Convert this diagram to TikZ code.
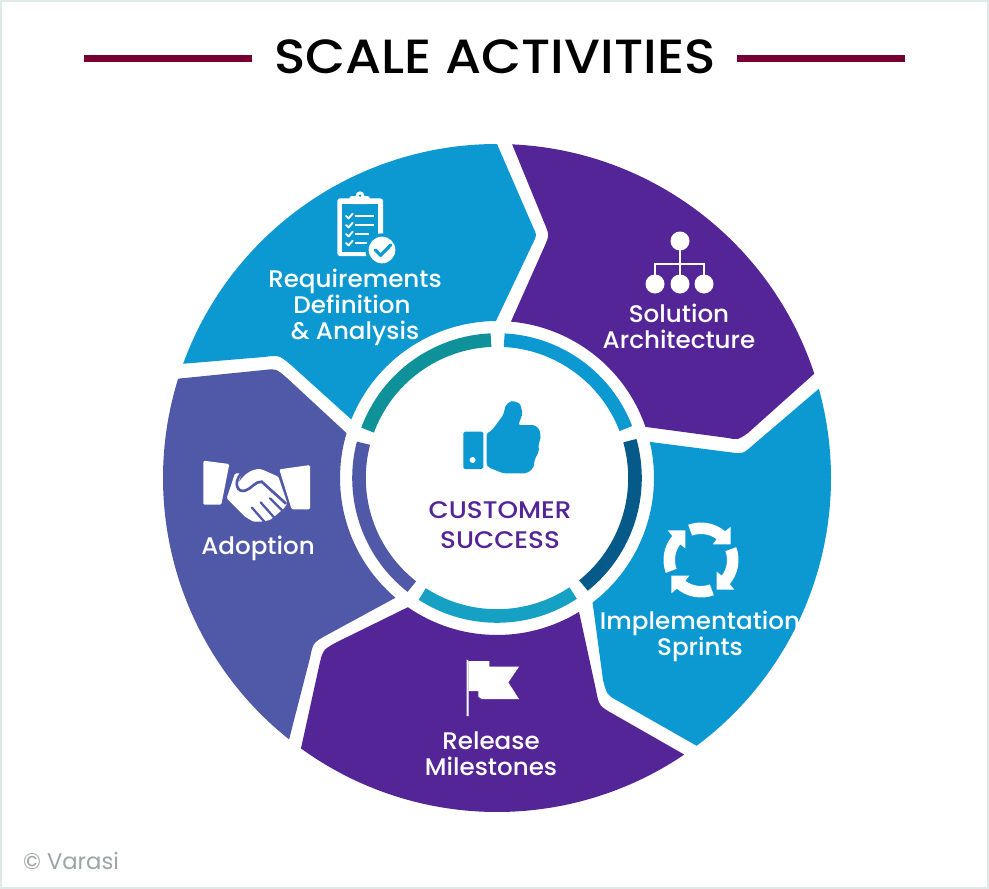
\documentclass[tikz,border=0pt]{standalone}
\usepackage{fontspec}
\setmainfont{Poppins}
\newfontfamily\bodyfont[FakeStretch=1.025]{Poppins Medium}
\newfontfamily\ttlfont[FakeStretch=1.08]{Poppins Medium}
\newfontfamily\midfont[FakeStretch=1.09]{Poppins Medium}
\definecolor{skyb}{HTML}{0C98D1}
\definecolor{purp}{HTML}{542596}
\definecolor{indg}{HTML}{5058A8}
\definecolor{tealr}{HTML}{0F9199}
\definecolor{cyanr}{HTML}{16A1C4}
\definecolor{darkr}{HTML}{055A8A}
\definecolor{wine}{HTML}{760033}
\definecolor{edgec}{HTML}{DFE9E8}
\definecolor{greyt}{HTML}{9AA5A5}
\tikzset{
  seclabel/.style={text=white,font=\bodyfont\fontsize{18}{20}\selectfont,anchor=base,inner sep=0pt},
  midlabel/.style={text=purp,font=\midfont\fontsize{18}{20}\selectfont,anchor=base,inner sep=0pt},
  ringseg/.style={line width=10.2pt},
  titlerule/.style={wine,line width=5.2pt},
  chk/.style={white,line width=1.4pt,line cap=round,line join=round},
  bar/.style={white,line width=1.9pt}
}
\begin{document}
\begin{tikzpicture}[x=.75pt,y=-.75pt]
\useasboundingbox (0,0) rectangle (989,889);
\draw[edgec,line width=1.5pt,fill=white] (1,1) rectangle (988,888);
% title
\node[anchor=base,inner sep=0pt,font=\ttlfont\fontsize{36}{40}\selectfont] (title) at (495,73) {SCALE ACTIVITIES};
\draw[titlerule] (84,58.5) -- (252,58.5);
\draw[titlerule] (737,58.5) -- (905,58.5);
% sectors and ring, relative to the centre
\begin{scope}[shift={(497,478)}]
\fill[skyb] (-90:334) arc[start angle=-90,end angle=-160,radius=334]
  -- (-233,-121) .. controls (-218,-123) .. (-206,-113)
  -- (-158.1:157) arc[start angle=-158.1,end angle=-90.4,radius=157]
  -- (36,-235) .. controls (40,-243) .. (36,-251) -- cycle;
\fill[purp] (-87.4:334) arc[start angle=-87.4,end angle=-18.2,radius=334]
  -- (251,-45) .. controls (241,-38) .. (231,-40)
  -- (-19:157) arc[start angle=-19,end angle=-84.9,radius=157]
  -- (49,-235) .. controls (52,-243) .. (49,-251) -- cycle;
\fill[skyb] (53.3:334) arc[start angle=53.3,end angle=-15.5,radius=334]
  -- (256,-33) .. controls (246,-24) .. (231,-26)
  -- (-13.3:157) arc[start angle=-13.3,end angle=52.5,radius=157]
  -- (106,202) .. controls (110,217) .. (121,223) -- cycle;
\fill[purp] (125.94:334) arc[start angle=125.94,end angle=55.9,radius=334]
  -- (118,237) .. controls (102,228) .. (99,212)
  -- (58.5:157) arc[start angle=58.5,end angle=124.6,radius=157]
  -- (-162,165) .. controls (-174,172) .. (-177,184) -- cycle;
\fill[indg] (-162.7:334) arc[start angle=-162.7,end angle=-231.5,radius=334]
  -- (-187,180) .. controls (-184,165) .. (-172,158)
  -- (-229.7:157) arc[start angle=-229.7,end angle=-163.4,radius=157]
  -- (-210,-100) .. controls (-221,-109.5) .. (-233,-108) -- cycle;
\draw[ringseg,tealr] (-92.5:138) arc[start angle=-92.5,end angle=-159.7,radius=138];
\draw[ringseg,indg] (-165.4:138) arc[start angle=-165.4,end angle=-231.9,radius=138];
\draw[ringseg,cyanr] (122.8:138) arc[start angle=122.8,end angle=56.5,radius=138];
\draw[ringseg,darkr] (51.2:138) arc[start angle=51.2,end angle=-15.7,radius=138];
\draw[ringseg,skyb] (-21:138) arc[start angle=-21,end angle=-87,radius=138];
\end{scope}
% labels
\node[seclabel] (req1) at (355,287) {Requirements};
\node[seclabel] (req2) at (352,313) {Definition};
\node[seclabel] (req3) at (355,339) {\& Analysis};
\node[seclabel] (sol1) at (679,322) {Solution};
\node[seclabel] (sol2) at (679,348) {Architecture};
\node[seclabel] (imp1) at (700,629) {Implementation};
\node[seclabel] (imp2) at (700,655) {Sprints};
\node[seclabel] (rel1) at (491,749) {Release};
\node[seclabel] (rel2) at (491,775) {Milestones};
\node[seclabel] (ado1) at (258,554) {Adoption};
\node[midlabel] (mid1) at (500,518) {CUSTOMER};
\node[midlabel] (mid2) at (500,548) {SUCCESS};
\node[anchor=base,inner sep=0pt,text=greyt,font=\fontsize{17}{19}\selectfont] (copy) at (71,869) {© Varasi};
% clipboard
\begin{scope}[shift={(320,130)},x=.25pt,y=-.25pt]
\fill[white,rounded corners=2pt] (52,205) rectangle (189,378);
\fill[skyb] (65,222) rectangle (175,365);
\fill[white,rounded corners=2pt] (88,198) rectangle (150,222);
\fill[white] (120,197) circle[radius=13];
\fill[skyb] (120,197) circle[radius=4];
\draw[chk] (78,258) -- (86,265) -- (98,251);
\draw[chk] (78,285) -- (86,292) -- (98,278);
\draw[chk] (78,312) -- (86,319) -- (98,305);
\draw[chk] (78,339) -- (86,346) -- (98,332);
\draw[white,line width=1.7pt] (105,259) -- (162,259);
\draw[white,line width=1.7pt] (105,286) -- (162,286);
\draw[white,line width=1.7pt] (105,312) -- (147,312);
\draw[white,line width=1.7pt] (105,339) -- (140,339);
\fill[skyb] (186,360) circle[radius=50];
\fill[white] (186,360) circle[radius=40];
\draw[skyb,line width=2.4pt,line cap=round,line join=round] (166,360) -- (182,376) -- (212,345);
\end{scope}
% org chart
\draw[bar] (680,241) -- (680,284);
\draw[bar] (655,284) -- (655,264) -- (704,264) -- (704,284);
\foreach \px/\py in {680/241,655/284,680/284,704/284}
  \fill[white] (\px,\py) circle[radius=9.5];
% cycle arrows
\foreach \turn in {0,-90,-180,-270}{
\begin{scope}[shift={(701,560)},rotate=\turn]
\fill[white] (-110:37.5) arc[start angle=-110,end angle=-50,radius=37.5]
  -- (29.7,-33.3) -- (29.7,-15.7) -- (11.7,-15.7)
  -- (-53:26) arc[start angle=-53,end angle=-110,radius=26] -- cycle;
\end{scope}}
% flag
\begin{scope}[shift={(440,650)},x=.25pt,y=-.25pt]
\fill[white] (80,28) -- (86,33) -- (86,198) -- (80,198) -- cycle;
\fill[white] (86,33) -- (148,33) -- (148,50) -- (237,50) -- (205,97) -- (237,147)
  -- (125,147) -- (115,140) -- (115,123) -- (86,123) -- cycle;
\end{scope}
% thumb
\begin{scope}[shift={(440,390)},x=.25pt,y=-.25pt]
\fill[skyb,rounded corners=1.2pt] (70,125) rectangle (130,237);
\fill[white] (98,210) circle[radius=9];
\fill[skyb,rounded corners=1.6pt] (140,130) -- (155,122) -- (190,75) -- (197,45) -- (215,32) -- (240,40)
  -- (248,70) -- (235,105) -- (285,105) -- (300,120) -- (302,150) -- (295,160) -- (297,185)
  -- (285,205) -- (280,235) -- (260,250) -- (190,250) -- (145,232) -- (140,225) -- cycle;
\end{scope}
% handshake
\begin{scope}[shift={(190,440)},x=.25pt,y=-.25pt]
\fill[white,rounded corners=1pt] (40,62) -- (118,72) -- (94,194) -- (40,194) -- cycle;
\fill[white,rounded corners=1pt] (268,88) -- (360,75) -- (360,208) -- (305,208) -- cycle;
\fill[white,rounded corners=1pt] (110,175) -- (135,100) -- (155,100) -- (145,130) .. controls (160,105) and (185,85) .. (215,88)
  -- (265,110) -- (292,190) -- (282,205) -- (262,222) -- (240,240) -- (215,245) -- (190,245) -- (165,230) -- cycle;
\draw[indg,line width=2pt,line cap=round] (152,102) .. controls (130,130) and (142,158) .. (165,152)
  .. controls (185,146) and (195,124) .. (215,125) -- (287,190);
\draw[indg,line width=1.7pt,line cap=round] (240,175) -- (280,215);
\draw[indg,line width=1.7pt,line cap=round] (212,187) -- (252,232);
\draw[indg,line width=1.7pt,line cap=round] (186,203) -- (222,244);
\end{scope}
\end{tikzpicture}
\end{document}
